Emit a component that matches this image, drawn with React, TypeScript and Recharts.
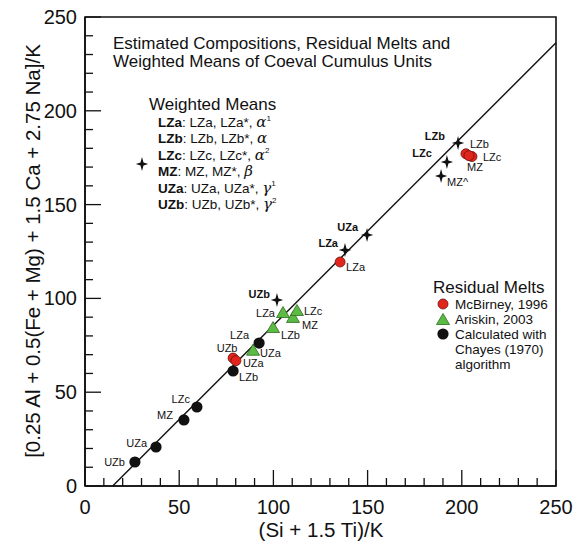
import React from 'react';
import { ScatterChart, Scatter, XAxis, YAxis, ReferenceLine, ReferenceArea, Customized } from 'recharts';

const FONT = '"Liberation Sans", Arial, Helvetica, sans-serif';

// ---- data ----
const chayesNames = ['UZb', 'UZa', 'MZ', 'LZc', 'LZb', 'LZa'];
const chayesX = [26.5, 37.7, 52.5, 59.4, 78.6, 92.4];
const chayesY = [12.8, 20.8, 35.2, 42.1, 61.3, 76.2];

const mcbirneyNames = ['UZb', 'UZa', 'LZa', 'LZb', 'LZc', 'MZ'];
const mcbirneyX = [78.6, 80.1, 135.4, 202.2, 205.4, 203.8];
const mcbirneyY = [68.2, 66.8, 119.4, 177.1, 175.6, 176.1];

const ariskinNames = ['UZa', 'LZb', 'LZa', 'MZ', 'LZc'];
const ariskinX = [89.2, 99.8, 105.1, 110.4, 112.5];
const ariskinY = [72.1, 84.2, 92.2, 89.6, 93.3];

const meanNames = ['UZb', 'LZa', 'UZa', 'MZ^', 'LZc', 'LZb'];
const meanX = [101.9, 138.0, 149.7, 189.0, 192.1, 198.0];
const meanY = [99.1, 125.8, 133.8, 165.2, 172.7, 182.8];

const fitLineX = [14.7, 250];
const fitLineY = [0, 236.3];

const axisTicks = [0, 10, 20, 30, 40, 50, 60, 70, 80, 90, 100, 110, 120, 130, 140, 150, 160, 170, 180, 190, 200, 210, 220, 230, 240, 250];

const titleLines = ['Estimated Compositions, Residual Melts and', 'Weighted Means of Coeval Cumulus Units'];
const meansRows = [
  { b: 'LZa', t: ': LZa, LZa*, ', g: 'α', s: '1' },
  { b: 'LZb', t: ': LZb, LZb*, ', g: 'α', s: '' },
  { b: 'LZc', t: ': LZc, LZc*, ', g: 'α', s: '2' },
  { b: 'MZ', t: ': MZ, MZ*, ', g: 'β', s: '' },
  { b: 'UZa', t: ': UZa, UZa*, ', g: 'γ', s: '1' },
  { b: 'UZb', t: ': UZb, UZb*, ', g: 'γ', s: '2' },
];
const meltLegend = ['McBirney, 1996', 'Ariskin, 2003', 'Calculated with', 'Chayes (1970)', 'algorithm'];

const build = (names: string[], xs: number[], ys: number[]) =>
  names.map((n, i) => ({ name: n, x: xs[i], y: ys[i] }));

const chayesData = build(chayesNames, chayesX, chayesY);
const mcbirneyData = build(mcbirneyNames, mcbirneyX, mcbirneyY);
const ariskinData = build(ariskinNames, ariskinX, ariskinY);
const meanData = build(meanNames, meanX, meanY);

// ---- label placement (px offsets from marker) ----
type Off = [string, number, number];
const labelPos: Record<string, Off> = {
  'k-UZb': ['end', -10, 0], 'k-UZa': ['end', -9, -4], 'k-MZ': ['end', -11, -5],
  'k-LZc': ['end', -7, -8], 'k-LZb': ['start', 6, 6], 'k-LZa': ['end', -10, -8],
  'r-UZb': ['middle', -6, -10], 'r-UZa': ['start', 7, 2], 'r-LZa': ['start', 6, 5],
  'r-LZb': ['start', 4, -10], 'r-LZc': ['start', 11, 0], 'r-MZ': ['middle', 6, 11],
  'g-LZa': ['end', -8, 0], 'g-LZc': ['start', 7, 0], 'g-MZ': ['start', 9, 7],
  'g-LZb': ['start', 8, 7], 'g-UZa': ['start', 7, 2],
  's-LZb': ['end', -13, -7], 's-LZc': ['end', -15, -9], 's-MZ^': ['start', 6, 6],
  's-LZa': ['end', -7, -7], 's-UZa': ['end', -9, -8], 's-UZb': ['end', -7, -6],
};

const RED = '#e2251c';
const GREEN = '#5cbb45';

const starPath = (cx: number, cy: number, rv = 7, rh = 6.2, r = 1.5) =>
  `M${cx},${cy - rv} L${cx + r},${cy - r} L${cx + rh},${cy} L${cx + r},${cy + r} L${cx},${cy + rv} L${cx - r},${cy + r} L${cx - rh},${cy} L${cx - r},${cy - r} Z`;

const triPath = (cx: number, cy: number) =>
  `M${cx},${cy - 6.5} L${cx + 6.5},${cy + 4.5} L${cx - 6.5},${cy + 4.5} Z`;

const PtLabel = ({ k, cx, cy, text, bold }: any) => {
  const p = labelPos[k];
  if (!p) return null;
  return (
    <text x={cx + p[1]} y={cy + p[2]} textAnchor={p[0]} dominantBaseline="central"
      fontFamily={FONT} fontSize={11} fontWeight={bold ? 'bold' : 'normal'} fill="#111">{text}</text>
  );
};

const makeShape = (kind: string) => (props: any) => {
  const { cx, cy, payload } = props;
  if (cx == null || cy == null) return null;
  let mark: any = null;
  if (kind === 'k') mark = <circle cx={cx} cy={cy} r={5.6} fill="#111" />;
  if (kind === 'r') mark = <circle cx={cx} cy={cy} r={5} fill={RED} stroke="#6b120d" strokeWidth={0.8} />;
  if (kind === 'g') mark = <path d={triPath(cx, cy)} fill={GREEN} stroke="#2c6a1d" strokeWidth={0.8} />;
  if (kind === 's') mark = <path d={starPath(cx, cy)} fill="#111" />;
  const bold = kind === 's' && payload.name !== 'MZ^';
  return (
    <g>
      {mark}
      <PtLabel k={`${kind}-${payload.name}`} cx={cx} cy={cy} text={payload.name} bold={bold} />
    </g>
  );
};

const YTick = (props: any) => {
  const { x, y, payload } = props;
  const v = payload.value;
  const major = v % 50 === 0;
  return (
    <g>
      <line x1={x} x2={x + (major ? 16 : 8)} y1={y} y2={y} stroke="#111" strokeWidth={1.3} />
      {major && (
        <text x={x - 8} y={y} textAnchor="end" dominantBaseline="central" fontFamily={FONT} fontSize={20} fill="#111">{v}</text>
      )}
    </g>
  );
};

const XTick = (props: any) => {
  const { x, y, payload } = props;
  const v = payload.value;
  const major = v % 50 === 0;
  return (
    <g>
      <line x1={x} x2={x} y1={y} y2={y - (major ? 16 : 8)} stroke="#111" strokeWidth={1.3} />
      {major && (
        <text x={x} y={y + 21} textAnchor="middle" dominantBaseline="central" fontFamily={FONT} fontSize={20} fill="#111">{v}</text>
      )}
    </g>
  );
};

const Annotations = () => {
  const greek = { fontFamily: '"DejaVu Serif", "Liberation Serif", serif', fontStyle: 'italic' as const };
  return (
    <g fontFamily={FONT} fill="#111">
      {/* axis titles */}
      <text x={32} y={251} textAnchor="middle" dominantBaseline="central" fontSize={20.5}
        transform="rotate(-90 32 251)">[0.25 Al + 0.5(Fe + Mg) + 1.5 Ca + 2.75 Na]/K</text>
      <text x={321} y={529} textAnchor="middle" dominantBaseline="central" fontSize={20.5}>(Si + 1.5 Ti)/K</text>
      {/* title */}
      {titleLines.map((t, i) => (
        <text key={t} x={113} y={43 + i * 18} dominantBaseline="central" fontSize={17}>{t}</text>
      ))}
      {/* weighted means legend */}
      <text x={149} y={104} dominantBaseline="central" fontSize={17}>Weighted Means</text>
      <path d={starPath(142, 164)} fill="#111" />
      {meansRows.map((r, i) => (
        <text key={r.b} x={158} y={122 + i * 16.4} dominantBaseline="central" fontSize={13.5}>
          <tspan fontWeight="bold">{r.b}</tspan>
          <tspan>{r.t}</tspan>
          <tspan {...greek} fontSize={15}>{r.g}</tspan>
          {r.s ? <tspan fontSize={8} dy={-4.5}>{r.s}</tspan> : null}
        </text>
      ))}
      {/* residual melts legend */}
      <text x={433} y={287} dominantBaseline="central" fontSize={17}>Residual Melts</text>
      <circle cx={443} cy={304} r={5} fill={RED} stroke="#6b120d" strokeWidth={0.8} />
      <path d={triPath(443, 320)} fill={GREEN} stroke="#2c6a1d" strokeWidth={0.8} />
      <circle cx={443} cy={334} r={5.6} fill="#111" />
      {meltLegend.map((t, i) => (
        <text key={t} x={455} y={304 + i * 15} dominantBaseline="central" fontSize={13.5}>{t}</text>
      ))}
    </g>
  );
};

export default function App() {
  return (
    <div style={{ position: 'absolute', left: 0, top: 0, width: 579, height: 552, background: '#fff' }}>
      <ScatterChart width={579} height={552} margin={{ top: 17, right: 23, bottom: 36, left: 25 }}>
        <XAxis type="number" dataKey="x" domain={[0, 250]} ticks={axisTicks} interval={0}
          tickSize={0} tickMargin={0} tick={<XTick />} axisLine={{ stroke: '#111', strokeWidth: 1.6 }}
          tickLine={false} height={30} allowDataOverflow />
        <YAxis type="number" dataKey="y" domain={[0, 250]} ticks={axisTicks} interval={0}
          tickSize={0} tickMargin={0} tick={<YTick />} axisLine={{ stroke: '#111', strokeWidth: 1.6 }}
          tickLine={false} width={60} allowDataOverflow />
        <ReferenceArea x1={0} x2={250} y1={0} y2={250} fill="none" stroke="#111" strokeWidth={1.6} />
        <ReferenceLine segment={[{ x: fitLineX[0], y: fitLineY[0] }, { x: fitLineX[1], y: fitLineY[1] }]}
          stroke="#111" strokeWidth={1.4} />
        <Scatter data={chayesData} shape={makeShape('k')} isAnimationActive={false} />
        <Scatter data={mcbirneyData} shape={makeShape('r')} isAnimationActive={false} />
        <Scatter data={ariskinData} shape={makeShape('g')} isAnimationActive={false} />
        <Scatter data={meanData} shape={makeShape('s')} isAnimationActive={false} />
        <Customized component={Annotations} />
      </ScatterChart>
    </div>
  );
}
